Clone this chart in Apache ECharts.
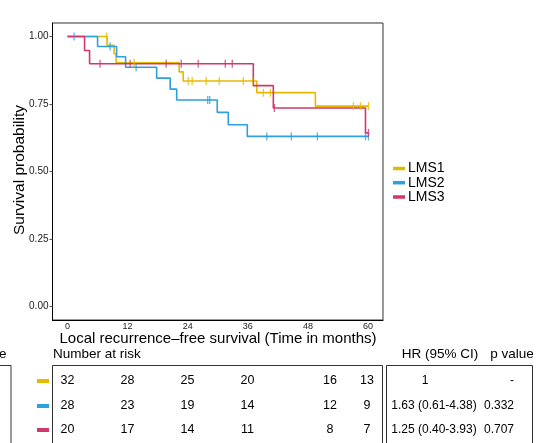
<!DOCTYPE html>
<html><head><meta charset="utf-8">
<script src="https://cdn.jsdelivr.net/npm/echarts@6/dist/echarts.min.js"></script>
<style>html,body{margin:0;padding:0;background:#fff}#c{width:541px;height:443px}</style>
</head><body><div id="c"></div>
<script>
// Kaplan–Meier curves of local recurrence-free survival by subtype
const groups = ['LMS1', 'LMS2', 'LMS3'];
const colors = ['#E7B800', '#2E9FDF', '#D0386A'];

// event times (months) and survival after each event, plus censoring times
const lms1Times  = [7.9, 9.3, 9.7, 22.3, 23.1, 37.8, 49.5];
const lms1Surv   = [0.967, 0.936, 0.903, 0.869, 0.835, 0.792, 0.742];
const lms1Censor = [7.8, 13.3, 24.1, 24.9, 27.7, 30.3, 35.1, 37.0, 39.1, 40.5, 57.1, 58.5, 60.1];

const lms2Times  = [6.0, 9.8, 11.6, 17.8, 20.5, 21.8, 29.9, 32.1, 35.9];
const lms2Surv   = [0.963, 0.925, 0.886, 0.846, 0.805, 0.765, 0.719, 0.673, 0.630];
const lms2Censor = [1.3, 8.5, 13.7, 28.0, 28.4, 39.8, 44.7, 49.9, 59.5, 60.1];

const lms3Times  = [3.4, 4.4, 37.1, 41.1, 59.5];
const lms3Surv   = [0.948, 0.899, 0.818, 0.735, 0.643];
const lms3Censor = [6.5, 12.5, 19.7, 22.7, 26.1, 31.5, 32.9, 41.3, 60.1];

const xTicks = [0, 12, 24, 36, 48, 60];
const yTicks = [0, 0.25, 0.5, 0.75, 1];

const riskTitle = 'Number at risk';
const lms1Risk = [32, 28, 25, 20, 16, 13];
const lms2Risk = [28, 23, 19, 14, 12, 9];
const lms3Risk = [20, 17, 14, 11, 8, 7];

const hrHeader = ['HR (95% CI)', 'p value'];
const hrValues = ['1', '1.63 (0.61-4.38)', '1.25 (0.40-3.93)'];
const pValues  = ['-', '0.332', '0.707'];

const xTitle = 'Local recurrence\u2013free survival (Time in months)';
const yTitle = 'Survival probability';

const FONT = '"Liberation Sans", Arial, Helvetica, sans-serif';

const curves = [
  { times: lms1Times, surv: lms1Surv, censor: lms1Censor },
  { times: lms2Times, surv: lms2Surv, censor: lms2Censor },
  { times: lms3Times, surv: lms3Surv, censor: lms3Censor }
];

// step survival at time t
function survAt(c, t) {
  let s = 1;
  for (let i = 0; i < c.times.length; i++) if (c.times[i] <= t) s = c.surv[i];
  return s;
}
function stepPoints(c) {
  const end = Math.max(c.times[c.times.length - 1], c.censor[c.censor.length - 1]);
  const pts = [[0, 1]];
  c.times.forEach((t, i) => pts.push([t, c.surv[i]]));
  pts.push([end, survAt(c, end)]);
  return pts;
}

const series = [];
curves.forEach((c, i) => {
  series.push({
    name: groups[i], type: 'line', step: 'end', data: stepPoints(c),
    showSymbol: false, silent: true, z: 2 + i,
    lineStyle: { color: colors[i], width: 1.6 }
  });
});
curves.forEach((c, i) => {
  series.push({
    name: groups[i] + ' censored', type: 'scatter', silent: true, z: 6 + i,
    data: c.censor.map(t => [t, survAt(c, t)]),
    symbol: 'rect', symbolSize: [1.3, 8],
    itemStyle: { color: colors[i] }
  });
});

// risk table, hazard ratio table, legend and titles
const g = [];
const rowY = [381, 406, 430];
const riskCols = [67.5, 127.5, 187.5, 247.5, 330, 367];
const risks = [lms1Risk, lms2Risk, lms3Risk];

g.push({ type: 'text', left: 53, top: 347, style: { text: riskTitle, font: '13.5px ' + FONT, fill: '#000' } });
g.push({ type: 'rect', shape: { x: 52.5, y: 365.5, width: 330, height: 120 }, style: { fill: 'none', stroke: '#333', lineWidth: 1 } });
g.push({ type: 'rect', shape: { x: -100, y: 365.5, width: 111, height: 120 }, style: { fill: 'none', stroke: '#333', lineWidth: 1 } });
g.push({ type: 'text', x: 6.5, y: 354, style: { text: 'Subtype', font: '13.5px ' + FONT, fill: '#000', textAlign: 'right', textVerticalAlign: 'middle' } });
risks.forEach((row, r) => {
  g.push({ type: 'rect', shape: { x: 37, y: rowY[r] - 2, width: 12, height: 4 }, style: { fill: colors[r] } });
  row.forEach((v, k) => {
    g.push({ type: 'text', x: riskCols[k], y: rowY[r], style: { text: String(v), font: '12.5px ' + FONT, fill: '#000', textAlign: 'center', textVerticalAlign: 'middle' } });
  });
});

g.push({ type: 'rect', shape: { x: 386.5, y: 365.5, width: 146, height: 120 }, style: { fill: 'none', stroke: '#333', lineWidth: 1 } });
g.push({ type: 'text', x: 440, y: 354, style: { text: hrHeader[0], font: '13.5px ' + FONT, fill: '#000', textAlign: 'center', textVerticalAlign: 'middle' } });
g.push({ type: 'text', x: 512, y: 354, style: { text: hrHeader[1], font: '13.5px ' + FONT, fill: '#000', textAlign: 'center', textVerticalAlign: 'middle' } });
hrValues.forEach((t, r) => {
  g.push({ type: 'text', x: r === 0 ? 425 : 434, y: rowY[r], style: { text: t, font: '12px ' + FONT, fill: '#000', textAlign: 'center', textVerticalAlign: 'middle' } });
  g.push({ type: 'text', x: r === 0 ? 512 : 499, y: rowY[r], style: { text: pValues[r], font: '12px ' + FONT, fill: '#000', textAlign: 'center', textVerticalAlign: 'middle' } });
});

const legendY = [168.5, 182.7, 197];
groups.forEach((name, i) => {
  g.push({ type: 'rect', shape: { x: 393, y: legendY[i] - 1.75, width: 12, height: 3.5 }, style: { fill: colors[i] } });
  g.push({ type: 'text', x: 408, y: legendY[i], style: { text: name, font: '14px ' + FONT, fill: '#000', textVerticalAlign: 'middle' } });
});

g.push({ type: 'text', x: 218, y: 339, style: { text: xTitle, font: '15px ' + FONT, fill: '#000', textAlign: 'center', textVerticalAlign: 'middle' } });
g.push({ type: 'text', x: 20, y: 170, rotation: Math.PI / 2, style: { text: yTitle, font: '15.5px ' + FONT, fill: '#000', textAlign: 'center', textVerticalAlign: 'middle' } });

const chart = echarts.init(document.getElementById('c'), null, { renderer: 'canvas' });
chart.setOption({
  backgroundColor: '#fff',
  animation: false,
  grid: { left: 52.5, top: 23, width: 330.5, height: 297, show: true, borderColor: '#333', borderWidth: 1, containLabel: false },
  xAxis: {
    type: 'value', min: -3, max: 63,
    splitLine: { show: false },
    axisLine: { show: true, onZero: false, lineStyle: { color: '#000', width: 1 } },
    axisTick: { show: false, customValues: xTicks },
    axisLabel: { customValues: xTicks, margin: 2, fontSize: 9, color: '#222', fontFamily: FONT }
  },
  yAxis: {
    type: 'value', min: -0.05, max: 1.05,
    splitLine: { show: false },
    axisLine: { show: true, onZero: false, lineStyle: { color: '#000', width: 1 } },
    axisTick: { show: true, length: 3, customValues: yTicks, lineStyle: { color: '#555' } },
    axisLabel: { customValues: yTicks, margin: 4, fontSize: 10, color: '#222', fontFamily: FONT, formatter: v => v.toFixed(2) }
  },
  series: series,
  graphic: g
});
</script>
</body></html>
